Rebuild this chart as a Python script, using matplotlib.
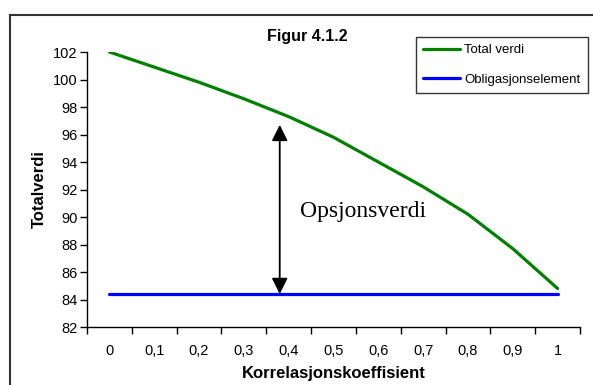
import matplotlib.pyplot as plt
from matplotlib.lines import Line2D

# korrelasjon og verdier
korr = ['0', '0,1', '0,2', '0,3', '0,4', '0,5', '0,6', '0,7', '0,8', '0,9', '1']
total_verdi = [102.0, 100.9, 99.8, 98.6, 97.3, 95.8, 94.0, 92.2, 90.2, 87.7, 84.8]
obligasjon = [84.4] * 11
pil_x = 3.8
pil_topp = 96.7
tekst_x = 4.25
tekst_y = 90.4

plt.rcParams['font.family'] = ['Liberation Sans', 'DejaVu Sans']

fig = plt.figure(figsize=(5.93, 3.85), dpi=100)
ax = fig.add_axes([87/593, 1-327/385, (580-87)/593, (327-52)/385])

pos = list(range(len(korr)))
ax.plot(pos, total_verdi, color='#008000', lw=2.3, label='Total verdi', solid_capstyle='round')
ax.plot(pos, obligasjon, color='#0000ff', lw=2.3, label='Obligasjonselement', solid_capstyle='round')

ax.annotate('', xy=(pil_x, pil_topp), xytext=(pil_x, obligasjon[0]),
            arrowprops=dict(arrowstyle='<|-|>', color='black', lw=1.3,
                            mutation_scale=24, shrinkA=0, shrinkB=0))
ax.text(tekst_x, tekst_y, 'Opsjonsverdi', family='Liberation Serif', fontsize=17,
        ha='left', va='center')

ax.set_xlim(-0.5, 10.5)
ax.set_ylim(82, 102)
ax.set_yticks(range(82, 103, 2))
ax.set_xticks([p - 0.5 for p in pos] + [10.5])
ax.set_xticklabels([])
ax.set_xticks(pos, minor=True)
ax.set_xticklabels(korr, minor=True)
ax.tick_params(axis='x', which='minor', length=0, pad=12, labelsize=10.5)
ax.tick_params(axis='x', which='major', length=5, width=1, direction='out')
ax.tick_params(axis='y', length=5, width=1, direction='out', labelsize=10.5, pad=2)

for s in ['top', 'right']:
    ax.spines[s].set_visible(False)
for s in ['left', 'bottom']:
    ax.spines[s].set_linewidth(1)

ax.set_xlabel('Korrelasjonskoeffisient', fontsize=12, fontweight='bold', labelpad=6)
ax.set_ylabel('Totalverdi', fontsize=12, fontweight='bold', labelpad=4)
fig.text(307/593, 1-37/385, 'Figur 4.1.2', fontsize=11.5, fontweight='bold',
         ha='center', va='center')

leg = ax.legend(loc='upper left', bbox_to_anchor=(416/593, 1-37/385),
                bbox_transform=fig.transFigure, fontsize=9.5, frameon=True,
                fancybox=False, edgecolor='black', handlelength=2.8,
                handletextpad=0.3, labelspacing=1.3, borderpad=0.55,
                borderaxespad=0)
leg.get_frame().set_linewidth(1)

# ramme rundt diagramområdet
fig.add_artist(Line2D([10/593, 10/593], [0, 1-15/385], color='#333333', lw=1.5))
fig.add_artist(Line2D([10/593, 1], [1-15/385, 1-15/385], color='#333333', lw=1.5))

fig.savefig('out.png', dpi=100)
